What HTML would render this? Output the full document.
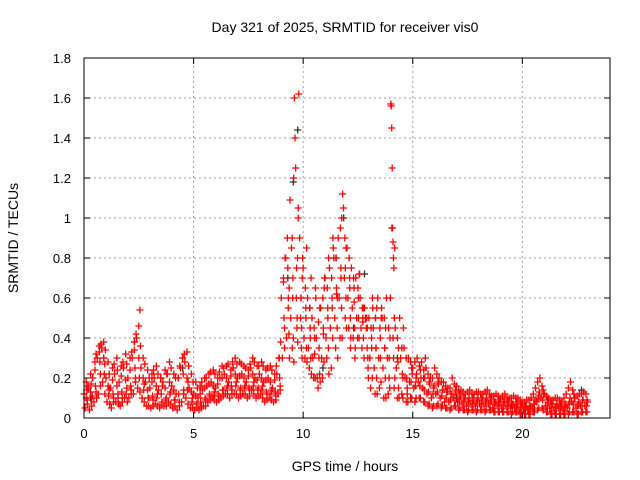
<!DOCTYPE html>
<html><head><meta charset="utf-8"><style>
body{margin:0;background:#fff;}
svg{display:block;font-family:"Liberation Sans",sans-serif;}
</style></head><body>
<svg id="chart" width="640" height="480">
<text x="345" y="32" text-anchor="middle" font-size="14">Day 321 of 2025, SRMTID for receiver vis0</text>
<text x="345" y="471" text-anchor="middle" font-size="14">GPS time / hours</text>
<text x="18" y="238" text-anchor="middle" font-size="14" transform="rotate(-90 18 238)">SRMTID / TECUs</text>
<g id="grid"></g>
<g id="ticks"></g>
<g id="black"></g>
<g id="red"></g>
<rect x="84" y="58" width="526" height="360" fill="none" stroke="#000" stroke-width="1"/>
</svg>
<script>
const xTicks=[0,5,10,15,20];
const yTicks=[0,0.2,0.4,0.6,0.8,1,1.2,1.4,1.6,1.8];
const yTickLabels=["0","0.2","0.4","0.6","0.8","1","1.2","1.4","1.6","1.8"];
const redRows=[
[0.0,.12,.05,.18,.09],[0.2,.15,.04,.22,.1],[0.4,.2,.08,.28,.13],[0.6,.3,.12,.36,.22],[0.8,.35,.18,.38,.27],
[1.0,.2,.08,.28,.14],[1.2,.15,.05,.25,.1],[1.4,.22,.08,.3,.12],[1.6,.18,.06,.26,.1],[1.8,.25,.1,.32,.15],
[2.0,.2,.1,.3,.14],[2.2,.3,.12,.38,.2],[2.4,.4,.15,.46,.54],[2.6,.25,.1,.3,.17],[2.8,.18,.06,.24,.1],
[3.0,.15,.05,.22,.09],[3.2,.2,.07,.26,.12],[3.4,.14,.05,.2,.08],[3.6,.18,.06,.24,.1],[3.8,.22,.08,.28,.13],
[4.0,.16,.05,.22,.09],[4.2,.12,.04,.2,.08],[4.4,.25,.08,.3,.14],[4.6,.28,.1,.33,.18],[4.8,.15,.05,.22,.1],
[5.0,.12,.04,.18,.07],[5.2,.1,.04,.16,.06],[5.4,.14,.06,.2,.09],[5.6,.16,.08,.22,.11],[5.8,.18,.1,.24,.13],
[6.0,.15,.08,.2,.11],[6.2,.2,.1,.26,.14],[6.4,.22,.12,.26,.16],[6.6,.18,.1,.24,.14],[6.8,.25,.12,.3,.18],
[7.0,.2,.1,.28,.15],[7.2,.22,.12,.26,.16],[7.4,.18,.1,.24,.14],[7.6,.25,.14,.3,.18],[7.8,.2,.1,.26,.15],
[8.0,.22,.12,.28,.16],[8.2,.18,.08,.24,.12],[8.4,.2,.1,.26,.14],[8.6,.15,.08,.22,.11],[8.8,.22,.12,.3,.16],
[9.0,.6,.3,.7,.45],[9.2,.8,.4,.9,.55,.65],[9.4,1.09,.5,.85,.35,.7,1.2],[9.6,1.6,1.4,1.25,.6,.45,.8,1.05],[9.8,1.62,.9,.5,.35,.7],
[10.0,.75,.4,.3,.55,.85],[10.2,.6,.35,.25,.45,.7],[10.4,.5,.3,.2,.4,.65],[10.6,.4,.2,.15,.3,.55],[10.8,.55,.3,.2,.45,.65],
[11.0,.7,.4,.3,.55,.8],[11.2,.75,.45,.25,.6,.9],[11.4,.8,.5,.35,.65,.6],[11.6,.9,.6,.4,.75,1.0],[11.8,1.12,1.05,.7,.5,.85],
[12.0,.85,.6,.45,.7,.35],[12.2,.75,.55,.4,.65,.3],[12.4,.7,.5,.4,.6,.72],[12.6,.6,.45,.35,.5,.55],[12.8,.55,.5,.45,.35,.25],
[13.0,.5,.3,.15,.4,.6],[13.2,.45,.25,.12,.35,.55],[13.4,.6,.3,.15,.4,.5],[13.6,.5,.25,.1,.35,.45],[13.8,.6,.3,.12,.2,.4],
[14.0,1.57,1.56,1.45,1.25,.95,.88,.8,.75,.5,.2],[14.2,.45,.25,.1,.35],[14.4,.5,.3,.12,.2],[14.6,.35,.2,.08,.15],[14.8,.3,.18,.1,.25],
[15.0,.25,.15,.08,.2],[15.2,.3,.18,.1,.24],[15.4,.28,.15,.08,.2],[15.6,.25,.12,.06,.18],[15.8,.2,.1,.05,.15],
[16.0,.25,.12,.06,.18],[16.2,.2,.1,.05,.14],[16.4,.18,.08,.05,.13],[16.6,.15,.08,.04,.12],[16.8,.2,.1,.06,.14],
[17.0,.16,.08,.04,.12],[17.2,.14,.07,.04,.1],[17.4,.12,.06,.03,.09],[17.6,.14,.07,.04,.1],[17.8,.12,.06,.03,.09],
[18.0,.13,.07,.04,.1],[18.2,.12,.06,.03,.09],[18.4,.14,.07,.04,.1],[18.6,.11,.05,.03,.08],[18.8,.12,.06,.03,.09],
[19.0,.1,.05,.03,.08],[19.2,.12,.06,.03,.09],[19.4,.1,.05,.02,.07],[19.6,.11,.05,.03,.08],[19.8,.1,.04,.02,.07],
[20.0,.08,.04,.02,.06],[20.2,.09,.04,.02,.06],[20.4,.1,.05,.03,.07],[20.6,.15,.08,.04,.11],[20.8,.2,.1,.05,.14],
[21.0,.12,.06,.03,.09],[21.2,.1,.05,.02,.07],[21.4,.09,.04,.02,.06],[21.6,.1,.05,.02,.07],[21.8,.08,.04,.02,.06],
[22.0,.12,.05,.02,.08],[22.2,.18,.08,.03,.12],[22.4,.1,.05,.02,.07],[22.6,.12,.06,.03,.09],[22.8,.13,.06,.03,.09]
];
const redRows2=[
[0.1,.1,.14,.07,.16],[0.3,.13,.17,.06,.11],[0.5,.24,.16,.32,.1],[0.7,.33,.28,.16,.37],[0.9,.3,.22,.12,.34],
[1.1,.16,.11,.22,.07],[1.3,.19,.12,.08,.27],[1.5,.16,.24,.1,.07],[1.7,.21,.13,.08,.28],[1.9,.19,.12,.27,.08],
[2.1,.24,.16,.12,.33],[2.3,.34,.25,.18,.42],[2.5,.3,.2,.13,.36],[2.7,.2,.14,.08,.27],[2.9,.14,.1,.06,.2],
[3.1,.18,.11,.06,.24],[3.3,.16,.1,.06,.22],[3.5,.2,.12,.07,.16],[3.7,.15,.09,.06,.22],[3.9,.18,.12,.07,.25],
[4.1,.14,.09,.06,.2],[4.3,.2,.12,.06,.26],[4.5,.3,.22,.12,.32],[4.7,.2,.14,.07,.26],[4.9,.13,.08,.05,.18],
[5.1,.11,.07,.05,.15],[5.3,.12,.08,.05,.18],[5.5,.15,.1,.06,.2],[5.7,.17,.12,.09,.23],[5.9,.16,.11,.09,.22],
[6.1,.17,.12,.09,.23],[6.3,.2,.14,.11,.25],[6.5,.2,.15,.12,.27],[6.7,.21,.16,.12,.28],[6.9,.22,.16,.12,.27],
[7.1,.21,.14,.11,.27],[7.3,.2,.15,.12,.25],[7.5,.21,.15,.11,.27],[7.7,.22,.16,.12,.28],[7.9,.19,.14,.11,.26],
[8.1,.2,.14,.1,.26],[8.3,.19,.13,.09,.25],[8.5,.18,.12,.09,.24],[8.7,.19,.13,.09,.26],[8.9,.3,.2,.14,.38],
[9.1,.68,.5,.35,.8],[9.3,.75,.6,.42,.3],[9.5,.9,.6,.4,.28],[9.7,.75,.5,.38,1.0],[9.9,.6,.45,.3,.8],
[10.1,.65,.5,.35,.28],[10.3,.55,.4,.3,.22],[10.5,.45,.32,.2,.6],[10.7,.48,.35,.22,.18],[10.9,.6,.42,.28,.7],
[11.1,.65,.5,.35,.22],[11.3,.7,.55,.4,.85],[11.5,.8,.62,.45,.3],[11.7,.95,.7,.55,.4],[11.9,.9,.75,.6,.45],
[12.1,.8,.65,.5,.4],[12.3,.7,.58,.45,.35],[12.5,.65,.5,.4,.72],[12.7,.55,.48,.4,.3],[12.9,.5,.45,.3,.2],
[13.1,.45,.35,.2,.55],[13.3,.5,.35,.2,.12],[13.5,.45,.3,.18,.55],[13.7,.5,.35,.2,.1],[13.9,.45,.3,.15,.6],
[14.1,.4,.3,.15,.85],[14.3,.4,.28,.15,.1],[14.5,.35,.22,.1,.45],[14.7,.3,.2,.12,.08],[14.9,.28,.18,.1,.22],
[15.1,.28,.16,.1,.22],[15.3,.26,.16,.1,.2],[15.5,.24,.14,.08,.3],[15.7,.22,.13,.07,.17],[15.9,.2,.12,.06,.16],
[16.1,.22,.13,.07,.17],[16.3,.18,.11,.06,.14],[16.5,.16,.1,.05,.13],[16.7,.15,.09,.05,.12],[16.9,.17,.1,.06,.13],
[17.1,.14,.09,.05,.11],[17.3,.13,.08,.04,.1],[17.5,.13,.08,.04,.1],[17.7,.12,.07,.04,.09],[17.9,.13,.08,.04,.1],
[18.1,.12,.07,.04,.09],[18.3,.13,.08,.04,.1],[18.5,.12,.07,.04,.09],[18.7,.11,.07,.03,.08],[18.9,.11,.07,.03,.08],
[19.1,.11,.06,.03,.08],[19.3,.1,.06,.03,.08],[19.5,.1,.06,.03,.07],[19.7,.1,.06,.03,.07],[19.9,.09,.05,.02,.07],
[20.1,.08,.05,.02,.06],[20.3,.09,.05,.02,.06],[20.5,.12,.07,.03,.09],[20.7,.18,.1,.05,.13],[20.9,.16,.09,.04,.12],
[21.1,.11,.06,.03,.08],[21.3,.09,.05,.02,.07],[21.5,.1,.05,.02,.07],[21.7,.09,.05,.02,.06],[21.9,.1,.05,.02,.07],
[22.1,.15,.07,.03,.1],[22.3,.14,.07,.03,.1],[22.5,.11,.06,.02,.08],[22.7,.12,.06,.03,.09],[22.9,.12,.06,.03,.08]
];
const blackT=[0.3,0.9,2.3,4.5,6.8,8.9,9.3,9.55,9.75,9.9,10.3,10.9,11.5,11.85,12.3,12.8,13.3,14.05,14.3,15.5,17,19.5,21,22.7];
const blackV=[0.1,0.3,0.38,0.25,0.25,0.3,0.7,1.18,1.44,0.6,0.55,0.25,0.8,1.0,0.45,0.72,0.5,0.95,0.3,0.2,0.1,0.06,0.12,0.14];

const X0=84,X1=610,Y0=418,Y1=58,XMAX=24,YMAX=1.8;
const sx=v=>X0+(X1-X0)*v/XMAX;
const sy=v=>Y0-(Y0-Y1)*v/YMAX;
const NS="http://www.w3.org/2000/svg";
function mk(tag,attrs,parent){const e=document.createElementNS(NS,tag);for(const k in attrs)e.setAttribute(k,attrs[k]);parent.appendChild(e);return e;}
const grid=document.getElementById('grid'),ticks=document.getElementById('ticks');
xTicks.forEach(t=>{
  const x=sx(t);
  if(t>0){const l=mk('line',{x1:x,y1:Y0,x2:x,y2:Y1,stroke:'#a0a0a0','stroke-dasharray':'2,3'},grid);
  
  }
  mk('line',{x1:x,y1:Y0,x2:x,y2:Y0-6,stroke:'#000'},ticks);
  mk('line',{x1:x,y1:Y1,x2:x,y2:Y1+6,stroke:'#000'},ticks);
  const tx=mk('text',{x:x,y:Y0+20,'text-anchor':'middle','font-size':13},ticks);
  tx.textContent=t;
  
  
});
yTicks.forEach((t,i)=>{
  const y=sy(t);
  if(t>0&&t<YMAX){const l=mk('line',{x1:X0,y1:y,x2:X1,y2:y,stroke:'#a0a0a0','stroke-dasharray':'2,3'},grid);
  
  }
  mk('line',{x1:X0,y1:y,x2:X0+6,y2:y,stroke:'#000'},ticks);
  mk('line',{x1:X1,y1:y,x2:X1-6,y2:y,stroke:'#000'},ticks);
  const tx=mk('text',{x:X0-13,y:y+5,'text-anchor':'end','font-size':13},ticks);
  tx.textContent=yTickLabels[i];
  
  
});
function plus(g,t,v,col){
  const x=sx(t),y=sy(v);
  const p=mk('path',{d:`M${x-3.5},${y}h7M${x},${y-3.5}v7`,stroke:col,'stroke-width':1.3,fill:'none'},g);
  
  
}
const bg=document.getElementById('black'),rg=document.getElementById('red');
blackT.forEach((t,i)=>plus(bg,t,blackV[i],'#303030'));
redRows.forEach(r=>{const t=r[0];const n=r.length-1;r.slice(1).forEach((v,j)=>plus(rg,t+0.2*j/n,v,'#ff0000'));});
redRows2.forEach(r=>{const t=r[0];const n=r.length-1;r.slice(1).forEach((v,j)=>plus(rg,t+0.1*j/n,v,'#ff0000'));});
</script>
</body></html>
